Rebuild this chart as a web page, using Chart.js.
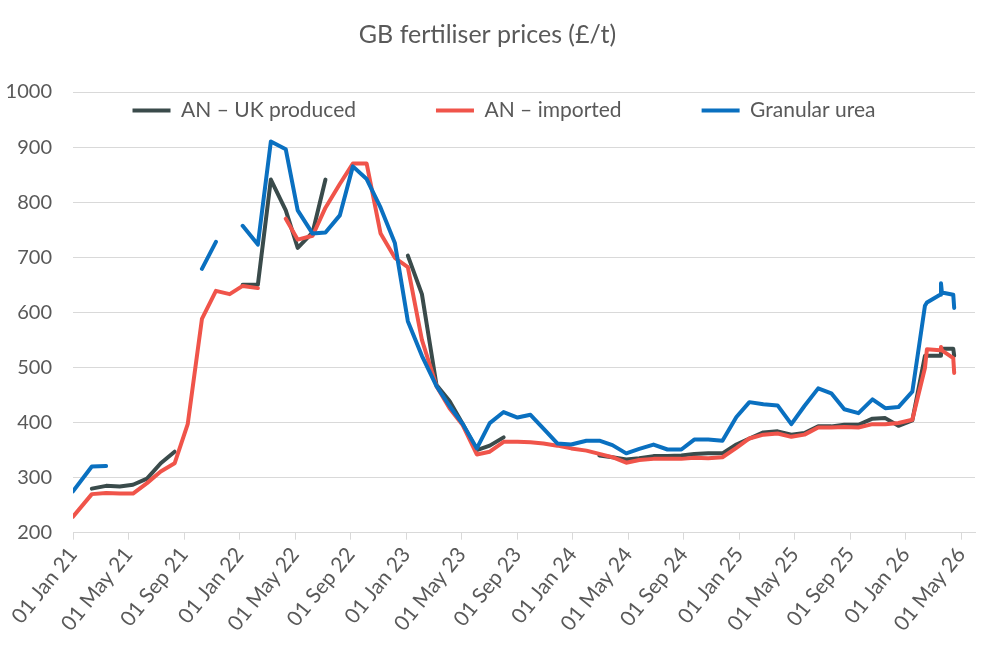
<!DOCTYPE html>
<html>
<head>
<meta charset="utf-8">
<title>GB fertiliser prices</title>
<script src="https://cdn.jsdelivr.net/npm/chart.js@4.4.1/dist/chart.umd.min.js"></script>
<style>
  html, body { margin: 0; padding: 0; background: #ffffff; }
</style>
</head>
<body>
<canvas id="lineChart" width="1000" height="667"></canvas>
<script>
// price dates (read off the chart, not quite monthly)
const dates = [
  '2021-01-01', '2021-02-11', '2021-03-13', '2021-04-12', '2021-05-11', '2021-06-11',
  '2021-07-11', '2021-08-11', '2021-09-09', '2021-10-10', '2021-11-10', '2021-12-10',
  '2022-01-08', '2022-02-10', '2022-03-09', '2022-04-11', '2022-05-07', '2022-06-09',
  '2022-07-07', '2022-08-08', '2022-09-06', '2022-10-06', '2022-11-06', '2022-12-07',
  '2023-01-05', '2023-02-05', '2023-03-07', '2023-04-05', '2023-05-03', '2023-06-04',
  '2023-07-02', '2023-08-02', '2023-09-02', '2023-09-30', '2023-10-29', '2023-11-28',
  '2023-12-29', '2024-02-01', '2024-02-28', '2024-03-28', '2024-04-27', '2024-05-26',
  '2024-06-26', '2024-07-27', '2024-08-27', '2024-09-24', '2024-10-25', '2024-11-25',
  '2024-12-26', '2025-01-24', '2025-02-22', '2025-03-25', '2025-04-24', '2025-05-23',
  '2025-06-22', '2025-07-21', '2025-08-19', '2025-09-19', '2025-10-20', '2025-11-17',
  '2025-12-16', '2026-01-16', '2026-02-12', '2026-02-16', '2026-03-16', '2026-03-18',
  '2026-03-20', '2026-04-14', '2026-04-16'
];

// £/t, null = no price that month
const anUkProduced = [
  null, 280, 285, 284, 287, 298, 326, 347, null, null, null, null,
  650, 650, 841, 785, 717, 745, 841, null, null, null, null, null,
  703, 633, 468, 439, 398, 350, 358, 373, null, null, null, null,
  null, null, 340, 337, 333, 335, 339, 339, 340, 343, 344, 344,
  360, 371, 382, 384, 378, 381, 393, 393, 396, 396, 407, 408,
  394, 404, 521, 521, 521, 534, 534, 534, 521
];

const anImported = [
  229, 270, 272, 271, 271, 290, 311, 326, 397, 588, 639, 633,
  648, 644, null, 770, 732, 739, 790, 833, 870, 870, 743, 699,
  682, 550, 466, 426, 396, 342, 347, 365, 365, 364, 362, 358,
  353, 349, 343, 337, 327, 332, 334, 334, 334, 336, 335, 337,
  354, 371, 378, 380, 374, 378, 391, 391, 392, 391, 397, 397,
  399, 405, 499, 533, 531, 537, 531, 517, 490
];

const granularUrea = [
  275, 320, 321, null, null, null, null, null, null, 679, 728, null,
  757, 723, 910, 896, 785, 743, 745, 776, 865, 842, 790, 726,
  584, 521, 466, 430, 398, 353, 399, 419, 409, 414, 389, 362,
  360, 367, 367, 359, 344, 352, 360, 351, 351, 369, 369, 367,
  410, 437, 433, 431, 397, 430, 462, 453, 424, 417, 442, 426,
  428, 456, 612, 618, 632, 653, 636, 632, 608
];

// one label every 4 months from Jan 21
const tickLabels = [
  '01 Jan 21', '01 May 21', '01 Sep 21', '01 Jan 22', '01 May 22', '01 Sep 22',
  '01 Jan 23', '01 May 23', '01 Sep 23', '01 Jan 24', '01 May 24', '01 Sep 24',
  '01 Jan 25', '01 May 25', '01 Sep 25', '01 Jan 26', '01 May 26'
];

const textColor = '#595959';
const gridColor = '#d9d9d9';

// months since 1 Jan 2021, with the day as a fraction
function monthsSinceStart(d) {
  const [y, m, day] = d.split('-').map(Number);
  const daysInMonth = new Date(y, m, 0).getDate();
  return (y - 2021) * 12 + (m - 1) + (day - 1) / daysInMonth;
}

function toPoints(values) {
  return dates.map((d, i) => ({ x: monthsSinceStart(d), y: values[i] }));
}

// excel puts the legend inside the plot, just under the top gridline.
// legend is laid out as a (1px high) top box, then moved down here
const legendInPlot = {
  id: 'legendInPlot',
  afterLayout(chart) {
    const legend = chart.legend;
    const area = chart.chartArea;
    const pad = legend.options.labels.padding;
    const center = (area.left + area.right) / 2 - 20;
    legend.top = area.top + 8 - pad;
    legend.bottom = area.top + 45;
    legend.left = center - 480;
    legend.right = center + 480;
    legend.width = 960;
  }
};

Chart.defaults.font.family = 'Lato, "Open Sans", sans-serif';
Chart.defaults.color = textColor;

const lineStyle = {
  borderWidth: 4,
  pointRadius: 0,
  pointHoverRadius: 0,
  tension: 0,
  borderCapStyle: 'round',
  borderJoinStyle: 'round',
  fill: false
};

const ctx = document.getElementById('lineChart').getContext('2d');

const lineChart = new Chart(ctx, {
  type: 'line',
  data: {
    datasets: [
      {
        label: 'AN – UK produced',
        data: toPoints(anUkProduced),
        borderColor: '#3a4b4b',
        backgroundColor: '#3a4b4b',
        order: 3,
        ...lineStyle
      },
      {
        label: 'AN – imported',
        data: toPoints(anImported),
        borderColor: '#f0544a',
        backgroundColor: '#f0544a',
        order: 2,
        ...lineStyle
      },
      {
        label: 'Granular urea',
        data: toPoints(granularUrea),
        borderColor: '#0a70c0',
        backgroundColor: '#0a70c0',
        order: 1,
        ...lineStyle
      }
    ]
  },
  plugins: [legendInPlot],
  options: {
    responsive: false,
    animation: false,
    layout: {
      padding: { left: 0, right: 25, top: 0, bottom: 28 }
    },
    plugins: {
      title: {
        display: true,
        text: 'GB fertiliser prices (£/t)',
        color: textColor,
        font: { size: 25, weight: 'normal' },
        padding: { top: 20, bottom: 41 }
      },
      legend: {
        position: 'top',
        reverse: true,
        maxHeight: 1,
        labels: {
          usePointStyle: true,
          pointStyle: 'line',
          pointStyleWidth: 38,
          padding: 80,
          color: textColor,
          font: { size: 21 }
        }
      },
      tooltip: { enabled: false }
    },
    scales: {
      x: {
        type: 'linear',
        min: 0,
        max: 65,
        // let the first slanted label hang out to the left like excel does
        afterFit: (axis) => { axis.paddingLeft = 0; },
        grid: {
          display: true,
          drawOnChartArea: false,
          drawTicks: true,
          tickLength: 7,
          color: gridColor
        },
        border: { display: true, color: gridColor },
        ticks: {
          stepSize: 4,
          includeBounds: false,
          autoSkip: false,
          minRotation: 51,
          maxRotation: 51,
          color: textColor,
          font: { size: 21 },
          callback: (value) => tickLabels[value / 4]
        }
      },
      y: {
        min: 200,
        max: 1000,
        afterFit: (axis) => { axis.width = 73; },
        grid: { color: gridColor, drawTicks: false },
        border: { display: false },
        ticks: {
          stepSize: 100,
          padding: 21,
          color: textColor,
          font: { size: 20 },
          callback: (value) => String(value)
        }
      }
    }
  }
});
</script>
</body>
</html>
